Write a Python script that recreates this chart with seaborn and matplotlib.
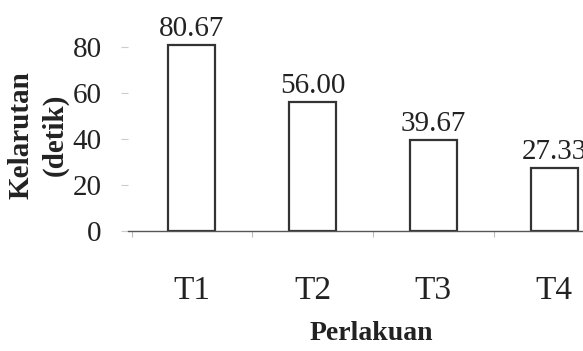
import matplotlib
matplotlib.use("Agg")
import matplotlib.pyplot as plt
import seaborn as sns
import pandas as pd

# Dissolution time per treatment
treatments = ["T1", "T2", "T3", "T4"]
dissolution_s = [80.67, 56.00, 39.67, 27.33]
y_ticks = [0, 20, 40, 60, 80]

sns.set_theme(style="white")
plt.rcParams["font.family"] = ["Liberation Serif", "DejaVu Serif"]
plt.rcParams["text.color"] = "#222222"
plt.rcParams["axes.labelcolor"] = "#222222"
plt.rcParams["xtick.color"] = "#222222"
plt.rcParams["ytick.color"] = "#222222"

df = pd.DataFrame({"Perlakuan": treatments, "Kelarutan": dissolution_s})

fig = plt.figure(figsize=(5.83, 3.51), dpi=100)
ax = fig.add_axes([128 / 583, 1 - 231 / 351, 1 - 128 / 583, (231 - 35) / 351])

sns.barplot(data=df, x="Perlakuan", y="Kelarutan", color="white",
            saturation=1, edgecolor="#333333", linewidth=1.6, width=0.39, ax=ax)

ax.set_xlim(-0.53, 3.24)
ax.set_ylim(0, 85)

for i, v in enumerate(dissolution_s):
    ax.annotate(f"{v:.2f}", xy=(i, v), xytext=(0, 2), textcoords="offset points",
                ha="center", va="bottom", fontsize=21, clip_on=False)

# spines: only the baseline is drawn
for s in ["top", "right", "left"]:
    ax.spines[s].set_visible(False)
ax.spines["bottom"].set_color("#555555")
ax.spines["bottom"].set_linewidth(1.0)

ax.set_yticks(y_ticks)
ax.set_yticklabels([str(t) for t in y_ticks], fontsize=21)
ax.tick_params(axis="y", length=5, width=0.8, color="#cccccc", pad=14, left=True)

ax.set_xticks(range(len(treatments)))
ax.set_xticklabels(treatments, fontsize=24)
ax.tick_params(axis="x", which="major", length=0, pad=32)
ax.set_xticks([-0.5, 0.5, 1.5, 2.5], minor=True)
ax.tick_params(axis="x", which="minor", length=4, width=0.8, color="#bbbbbb", bottom=True)

ax.set_xlabel("Perlakuan", fontsize=20, fontweight="bold")
ax.xaxis.set_label_coords((371 - 128) / 455, (231 - 321) / 196)

ax.set_ylabel("Kelarutan\n(detik)", fontsize=21, fontweight="bold", linespacing=1.3,
              va="center")
ax.yaxis.set_label_coords((38 - 128) / 455, (231 - 135) / 196)

fig.savefig("out.png", dpi=100)
